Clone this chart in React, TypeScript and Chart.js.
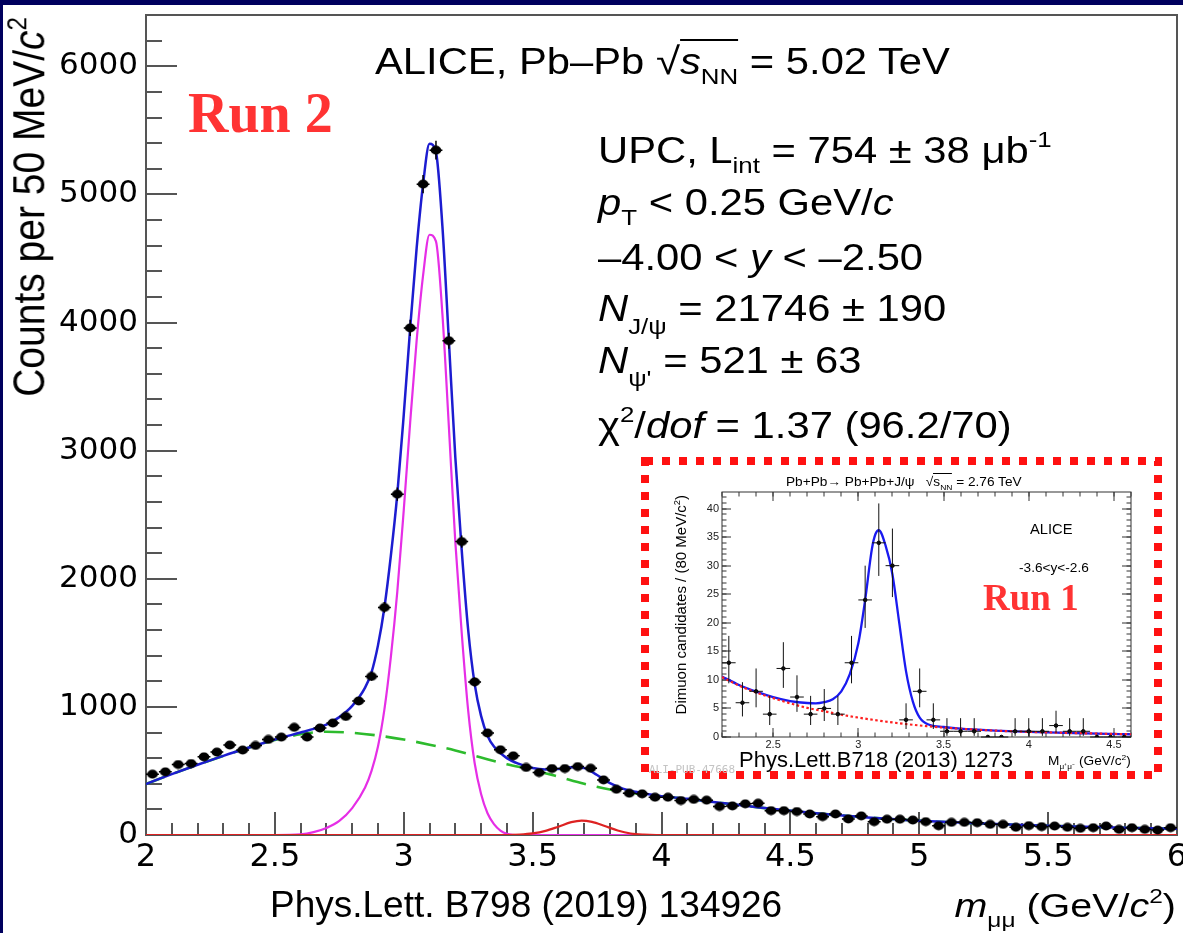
import React, { useEffect, useRef } from 'react';
import { Chart, registerables } from 'chart.js';

Chart.register(...registerables);

const SANS = '"Liberation Sans", Arial, Helvetica, sans-serif';
const SERIF = '"Liberation Serif", "Times New Roman", serif';
const TICKFONT = '"DejaVu Sans", sans-serif';
const MONO = '"DejaVu Sans Mono", "Liberation Mono", monospace';

// ---------------- tick labels ----------------
const mainXTicks = [2, 2.5, 3, 3.5, 4, 4.5, 5, 5.5, 6];
const mainYTicks = [0, 1000, 2000, 3000, 4000, 5000, 6000];
const insetXTicks = [2.5, 3, 3.5, 4, 4.5];
const insetYTicks = [0, 5, 10, 15, 20, 25, 30, 35, 40];

// ---------------- Run 2 (main) data ----------------
const binCenters = [
  2.025, 2.075, 2.125, 2.175, 2.225, 2.275, 2.325, 2.375, 2.425, 2.475,
  2.525, 2.575, 2.625, 2.675, 2.725, 2.775, 2.825, 2.875, 2.925, 2.975,
  3.025, 3.075, 3.125, 3.175, 3.225, 3.275, 3.325, 3.375, 3.425, 3.475,
  3.525, 3.575, 3.625, 3.675, 3.725, 3.775, 3.825, 3.875, 3.925, 3.975,
  4.025, 4.075, 4.125, 4.175, 4.225, 4.275, 4.325, 4.375, 4.425, 4.475,
  4.525, 4.575, 4.625, 4.675, 4.725, 4.775, 4.825, 4.875, 4.925, 4.975,
  5.025, 5.075, 5.125, 5.175, 5.225, 5.275, 5.325, 5.375, 5.425, 5.475,
  5.525, 5.575, 5.625, 5.675, 5.725, 5.775, 5.825, 5.875, 5.925, 5.975,
];
const counts = [
  475, 493, 550, 558, 610, 647, 702, 663, 699, 746,
  764, 840, 764, 835, 874, 925, 1046, 1238, 1776, 2660,
  3958, 5080, 5345, 3858, 2290, 1195, 796, 665, 618, 527,
  487, 519, 519, 534, 521, 430, 357, 326, 321, 295,
  295, 269, 278, 272, 222, 227, 243, 248, 190, 190,
  183, 164, 143, 164, 125, 149, 104, 123, 123, 117,
  104, 72, 99, 99, 96, 83, 83, 60, 73, 65,
  70, 60, 52, 57, 70, 44, 57, 44, 39, 57,
];
const countErrors = [
  22, 22, 23, 24, 25, 25, 26, 26, 26, 27,
  28, 29, 28, 29, 30, 30, 32, 35, 42, 52,
  63, 71, 73, 62, 48, 35, 28, 26, 25, 23,
  22, 23, 23, 23, 23, 21, 19, 18, 18, 17,
  17, 16, 17, 16, 15, 15, 16, 16, 14, 14,
  14, 13, 12, 13, 11, 12, 10, 11, 11, 11,
  10, 8, 10, 10, 10, 9, 9, 8, 9, 8,
  8, 8, 7, 8, 8, 7, 8, 7, 6, 8,
];

const totalFitX = [
  2.0, 2.1, 2.2, 2.3, 2.4, 2.5, 2.6, 2.65, 2.7, 2.75, 2.8, 2.85, 2.875, 2.9, 2.925,
  2.95, 2.975, 3.0, 3.025, 3.05, 3.075, 3.1, 3.125, 3.15, 3.175, 3.2, 3.225, 3.25,
  3.275, 3.3, 3.325, 3.35, 3.4, 3.45, 3.5, 3.55, 3.6, 3.65, 3.7, 3.75, 3.8, 3.85,
  3.9, 3.95, 4.0, 4.1, 4.2, 4.4, 4.6, 4.8, 5.0, 5.2, 5.4, 5.6, 5.8, 6.0,
];
const totalFitY = [
  398, 475, 548, 618, 683, 745, 800, 828, 862, 920, 1008, 1150, 1270, 1480, 1776,
  2180, 2660, 3280, 3958, 4580, 5080, 5395, 5330, 4750, 3860, 2950, 2220, 1600,
  1180, 930, 775, 690, 600, 553, 523, 512, 515, 528, 522, 468, 405, 362,
  337, 318, 303, 283, 258, 210, 170, 137, 112, 93, 78, 66, 56, 48,
];

const jpsiX = [
  2.0, 2.5, 2.6, 2.65, 2.7, 2.75, 2.8, 2.85, 2.875, 2.9, 2.925, 2.95, 2.975, 3.0,
  3.025, 3.05, 3.075, 3.1, 3.125, 3.15, 3.175, 3.2, 3.225, 3.25, 3.275, 3.3, 3.325,
  3.35, 3.375, 3.4, 3.45, 6.0,
];
const jpsiY = [
  0, 0, 5, 22, 55, 110, 210, 370, 500, 690, 980, 1390, 1900, 2535,
  3223, 3858, 4368, 4685, 4633, 4065, 3188, 2290, 1575, 970, 562, 320, 170,
  85, 35, 10, 0, 0,
];

const psi2sX = [2.0, 3.4, 3.45, 3.5, 3.55, 3.6, 3.65, 3.69, 3.73, 3.78, 3.83, 3.88, 3.93, 3.98, 6.0];
const psi2sY = [0, 0, 3, 12, 32, 65, 100, 112, 102, 70, 35, 12, 3, 0, 0];

const bkgX = [
  2.0, 2.1, 2.2, 2.3, 2.4, 2.5, 2.6, 2.7, 2.8, 2.9, 3.0, 3.1, 3.2, 3.3, 3.4, 3.5,
  3.6, 3.7, 3.8, 3.9, 4.0, 4.1, 4.2, 4.4, 4.6, 4.8, 5.0, 5.2, 5.4, 5.6, 5.8, 6.0,
];
const bkgY = [
  398, 475, 548, 618, 683, 742, 786, 806, 798, 776, 745, 705, 660, 605, 552, 508,
  455, 400, 355, 325, 302, 283, 258, 210, 170, 137, 112, 93, 78, 66, 56, 48,
];

// ---------------- Run 1 (inset) data ----------------
const run1Centers = [
  2.24, 2.32, 2.40, 2.48, 2.56, 2.64, 2.72, 2.80, 2.88, 2.96,
  3.04, 3.12, 3.20, 3.28, 3.36, 3.44, 3.52, 3.60, 3.68, 3.76,
  3.84, 3.92, 4.00, 4.08, 4.16, 4.24, 4.32, 4.40, 4.48, 4.56,
];
const run1Counts = [
  13, 6, 8, 4, 12, 7, 4, 5, 4, 13,
  24, 34, 30, 3, 8, 3, 1, 1, 1, 0,
  0, 1, 1, 1, 2, 1, 1, 0, 0, 0,
];
const run1ErrLow = [
  3.6, 2.4, 2.8, 1.9, 3.4, 2.6, 1.9, 2.2, 1.9, 3.6,
  4.9, 5.8, 5.5, 1.6, 2.8, 1.6, 0.8, 0.8, 0.8, 0,
  0, 0.8, 0.8, 0.8, 1.3, 0.8, 0.8, 0, 0, 0,
];
const run1ErrHigh = [
  4.7, 3.6, 4.0, 3.2, 4.6, 3.8, 3.2, 3.4, 3.2, 4.7,
  6.0, 6.9, 6.5, 2.9, 4.0, 2.9, 2.3, 2.3, 2.3, 0,
  0, 2.3, 2.3, 2.3, 2.6, 2.3, 2.3, 0, 0, 0,
];
const run1FitX = [
  2.2, 2.3, 2.4, 2.5, 2.6, 2.7, 2.75, 2.8, 2.85, 2.9, 2.95, 3.0, 3.04, 3.08, 3.1,
  3.12, 3.16, 3.2, 3.24, 3.28, 3.32, 3.36, 3.42, 3.5, 3.6, 3.8, 4.0, 4.2, 4.4, 4.6,
];
const run1FitY = [
  10.6, 9.1, 7.95, 7.0, 6.3, 5.95, 5.9, 6.1, 6.6, 8.0, 11.0, 16.4, 24.0, 33.0, 35.5,
  36.2, 33.5, 28.5, 20.0, 11.5, 6.2, 3.4, 2.1, 1.75, 1.45, 1.12, 0.9, 0.74, 0.6, 0.48,
];
const run1BkgX = [2.2, 2.3, 2.4, 2.5, 2.6, 2.7, 2.8, 2.9, 3.0, 3.1, 3.2, 3.3, 3.4, 3.5, 3.6, 3.8, 4.0, 4.2, 4.4, 4.6];
const run1BkgY = [10.5, 9.0, 7.8, 6.8, 5.9, 5.1, 4.5, 3.9, 3.4, 2.95, 2.55, 2.2, 1.9, 1.65, 1.45, 1.12, 0.9, 0.74, 0.6, 0.48];

const BLUE = '#1c1cd0';
const MAGENTA = '#e62ee6';
const RED = '#dd2222';
const GREEN = '#2dbb2d';

const pts = (xs: number[], ys: number[]) => xs.map((x, i) => ({ x, y: ys[i] }));

// ---------------- plugins ----------------
const frameTicksPlugin = {
  id: 'frameTicks',
  beforeDatasetsDraw(chart: any, _args: any, o: any) {
    const { ctx, chartArea: a } = chart;
    const xs = chart.scales.x;
    const ys = chart.scales.y;
    ctx.save();
    ctx.strokeStyle = o.color;
    ctx.lineWidth = o.width;
    ctx.beginPath();
    const xTicks = (step: number, len: number) => {
      const k0 = Math.ceil(xs.min / step - 1e-6);
      const k1 = Math.floor(xs.max / step + 1e-6);
      for (let k = k0; k <= k1; k++) {
        const px = Math.round(xs.getPixelForValue(k * step));
        ctx.moveTo(px, a.bottom);
        ctx.lineTo(px, a.bottom - len);
        if (o.mirror) {
          ctx.moveTo(px, a.top);
          ctx.lineTo(px, a.top + len);
        }
      }
    };
    const yTicks = (step: number, len: number) => {
      const k0 = Math.ceil(ys.min / step - 1e-6);
      const k1 = Math.floor(ys.max / step + 1e-6);
      for (let k = k0; k <= k1; k++) {
        const py = Math.round(ys.getPixelForValue(k * step));
        ctx.moveTo(a.left, py);
        ctx.lineTo(a.left + len, py);
        if (o.mirror) {
          ctx.moveTo(a.right, py);
          ctx.lineTo(a.right - len, py);
        }
      }
    };
    xTicks(o.xMajor, o.xMajorLen);
    xTicks(o.xMinor, o.xMinorLen);
    yTicks(o.yMajor, o.yMajorLen);
    yTicks(o.yMinor, o.yMinorLen);
    ctx.stroke();
    ctx.strokeRect(a.left, a.top, a.right - a.left, a.bottom - a.top);
    ctx.restore();
  },
};

const errorBarsPlugin = {
  id: 'errorBars',
  afterDatasetsDraw(chart: any) {
    const { ctx } = chart;
    const xs = chart.scales.x;
    const ys = chart.scales.y;
    chart.data.datasets.forEach((ds: any) => {
      if (!ds.errLow) return;
      ctx.save();
      ctx.strokeStyle = ds.errColor;
      ctx.lineWidth = ds.errWidth;
      ctx.beginPath();
      ds.data.forEach((p: any, j: number) => {
        const px = xs.getPixelForValue(p.x);
        const py = ys.getPixelForValue(p.y);
        ctx.moveTo(xs.getPixelForValue(p.x - ds.xHalf), py);
        ctx.lineTo(xs.getPixelForValue(p.x + ds.xHalf), py);
        if (ds.errLow[j] > 0 || ds.errHigh[j] > 0) {
          ctx.moveTo(px, ys.getPixelForValue(p.y - ds.errLow[j]));
          ctx.lineTo(px, ys.getPixelForValue(p.y + ds.errHigh[j]));
        }
      });
      ctx.stroke();
      ctx.restore();
    });
  },
};

const insetBoxPlugin = {
  id: 'insetBox',
  beforeDraw(chart: any) {
    const { ctx, width, height } = chart;
    ctx.save();
    ctx.fillStyle = '#ffffff';
    ctx.fillRect(0, 0, width, height);
    ctx.restore();
  },
  afterDraw(chart: any) {
    const { ctx, width, height } = chart;
    ctx.save();
    ctx.strokeStyle = '#ff1111';
    ctx.lineWidth = 8;
    ctx.setLineDash([8, 9]);
    ctx.strokeRect(4, 4, width - 8, height - 8);
    ctx.restore();
  },
};

// ---------------- text helpers ----------------
function Txt({ x, y, size, children, color = '#000', family = SANS, weight = 400, sx = 1.16, align = 'left', style = {} }: any) {
  const st: any = {
    position: 'absolute',
    top: y - 0.845 * size,
    fontSize: size,
    lineHeight: `${size}px`,
    fontFamily: family,
    fontWeight: weight,
    color,
    whiteSpace: 'nowrap',
    transform: `scaleX(${sx})`,
    transformOrigin: align === 'left' ? 'left top' : 'right top',
    ...style,
  };
  if (align === 'left') st.left = x;
  else st.right = 1183 - x;
  return <div style={st}>{children}</div>;
}
const Sub = ({ children, s = 0.62, d = 0.28 }: any) => (
  <span style={{ fontSize: `${s}em`, position: 'relative', top: `${d / s}em` }}>{children}</span>
);
const Sup = ({ children, s = 0.62, d = 0.42 }: any) => (
  <span style={{ fontSize: `${s}em`, position: 'relative', top: `${-d / s}em` }}>{children}</span>
);

const fixedTicks = (values: number[]) => (s: any) => {
  s.ticks = values.map((value) => ({ value }));
};

export default function App() {
  const mainRef = useRef<HTMLCanvasElement>(null);
  const insetRef = useRef<HTMLCanvasElement>(null);

  useEffect(() => {
    document.body.style.margin = '0';
    const marker = document.createElement('canvas');
    marker.width = 12;
    marker.height = 10;
    const mctx = marker.getContext('2d')!;
    mctx.fillStyle = '#000';
    mctx.beginPath();
    mctx.ellipse(6, 5, 5.4, 4.4, 0, 0, Math.PI * 2);
    mctx.fill();

    const tickCb = (v: any) => String(Math.round(Number(v) * 100) / 100);

    const main = new Chart(mainRef.current!, {
      type: 'scatter',
      plugins: [frameTicksPlugin, errorBarsPlugin],
      data: {
        datasets: [
          {
            label: 'data',
            data: pts(binCenters, counts),
            pointStyle: marker,
            pointRadius: 5,
            backgroundColor: '#000',
            borderColor: '#000',
            order: 0,
            errLow: countErrors,
            errHigh: countErrors,
            xHalf: 0.025,
            errColor: '#000',
            errWidth: 1.5,
          } as any,
          {
            label: 'total fit',
            data: pts(totalFitX, totalFitY),
            showLine: true,
            borderColor: BLUE,
            borderWidth: 2.5,
            pointRadius: 0,
            cubicInterpolationMode: 'monotone',
            order: 1,
          } as any,
          {
            label: 'J/psi',
            data: pts(jpsiX, jpsiY),
            showLine: true,
            borderColor: MAGENTA,
            borderWidth: 2.2,
            pointRadius: 0,
            cubicInterpolationMode: 'monotone',
            order: 3,
          } as any,
          {
            label: 'psi(2S)',
            data: pts(psi2sX, psi2sY),
            showLine: true,
            borderColor: RED,
            borderWidth: 2.2,
            pointRadius: 0,
            cubicInterpolationMode: 'monotone',
            order: 2,
          } as any,
          {
            label: 'background',
            data: pts(bkgX, bkgY),
            showLine: true,
            borderColor: GREEN,
            borderWidth: 2.6,
            borderDash: [20, 11],
            pointRadius: 0,
            cubicInterpolationMode: 'monotone',
            order: 4,
          } as any,
        ],
      },
      options: {
        responsive: false,
        animation: false,
        devicePixelRatio: 1,
        events: [],
        layout: { padding: { left: 0, right: 5, top: 15, bottom: 0 } },
        plugins: {
          legend: { display: false },
          tooltip: { enabled: false },
          frameTicks: {
            color: '#555555', width: 2, mirror: false,
            xMajor: 0.5, xMajorLen: 23, xMinor: 0.1, xMinorLen: 12,
            yMajor: 1000, yMajorLen: 31, yMinor: 200, yMinorLen: 16,
          },
        } as any,
        scales: {
          x: {
            type: 'linear', min: 2, max: 6,
            grid: { display: false, drawTicks: false }, border: { display: false },
            ticks: { font: { family: TICKFONT, size: 32 }, color: '#000', padding: 3, maxRotation: 0, minRotation: 0, autoSkip: false, callback: tickCb },
            afterBuildTicks: fixedTicks(mainXTicks),
            afterFit(s: any) { s.height = 98; s.paddingLeft = 0; s.paddingRight = 0; },
          },
          y: {
            type: 'linear', min: 0, max: 6400,
            grid: { display: false, drawTicks: false }, border: { display: false },
            ticks: { font: { family: TICKFONT, size: 31 }, color: '#000', padding: 8, autoSkip: false, callback: tickCb },
            afterBuildTicks: fixedTicks(mainYTicks),
            afterFit(s: any) { s.width = 146; s.paddingTop = 0; s.paddingBottom = 0; },
          },
        } as any,
      },
    });

    const inset = new Chart(insetRef.current!, {
      type: 'scatter',
      plugins: [insetBoxPlugin, frameTicksPlugin, errorBarsPlugin],
      data: {
        datasets: [
          {
            label: 'run1 data',
            data: pts(run1Centers, run1Counts),
            pointRadius: 1.8,
            backgroundColor: '#000',
            borderColor: '#000',
            order: 0,
            errLow: run1ErrLow,
            errHigh: run1ErrHigh,
            xHalf: 0.04,
            errColor: '#111',
            errWidth: 1,
          } as any,
          {
            label: 'run1 bkg',
            data: pts(run1BkgX, run1BkgY),
            showLine: true,
            borderColor: '#ff2020',
            borderWidth: 2.2,
            borderDash: [2.5, 2.5],
            pointRadius: 0,
            cubicInterpolationMode: 'monotone',
            order: 1,
          } as any,
          {
            label: 'run1 fit',
            data: pts(run1FitX, run1FitY),
            showLine: true,
            borderColor: '#1a1af0',
            borderWidth: 2.3,
            pointRadius: 0,
            cubicInterpolationMode: 'monotone',
            order: 2,
          } as any,
        ],
      },
      options: {
        responsive: false,
        animation: false,
        devicePixelRatio: 1,
        events: [],
        layout: { padding: { left: 0, right: 31, top: 35, bottom: 0 } },
        plugins: {
          legend: { display: false },
          tooltip: { enabled: false },
          frameTicks: {
            color: '#333333', width: 1, mirror: true,
            xMajor: 0.5, xMajorLen: 9, xMinor: 0.1, xMinorLen: 4.5,
            yMajor: 5, yMajorLen: 9, yMinor: 1, yMinorLen: 4.5,
          },
        } as any,
        scales: {
          x: {
            type: 'linear', min: 2.2, max: 4.6,
            grid: { display: false, drawTicks: false }, border: { display: false },
            ticks: { font: { family: SANS, size: 11 }, color: '#222', padding: 1.5, maxRotation: 0, minRotation: 0, autoSkip: false, callback: tickCb },
            afterBuildTicks: fixedTicks(insetXTicks),
            afterFit(s: any) { s.height = 42; s.paddingLeft = 0; s.paddingRight = 0; },
          },
          y: {
            type: 'linear', min: 0, max: 42.9,
            grid: { display: false, drawTicks: false }, border: { display: false },
            ticks: { font: { family: SANS, size: 11 }, color: '#222', padding: 3, autoSkip: false, callback: tickCb },
            afterBuildTicks: fixedTicks(insetYTicks),
            afterFit(s: any) { s.width = 81; s.paddingTop = 0; s.paddingBottom = 0; },
          },
        } as any,
      },
    });

    return () => {
      main.destroy();
      inset.destroy();
    };
  }, []);

  return (
    <div style={{ position: 'fixed', left: 0, top: 0, width: 1183, height: 933, background: '#fff', overflow: 'hidden', fontFamily: SANS }}>
      <canvas ref={mainRef} width={1183} height={933} style={{ position: 'absolute', left: 0, top: 0, width: 1183, height: 933 }} />

      {/* y axis title */}
      <div style={{ position: 'absolute', left: 7, top: 417, width: 400, textAlign: 'right', fontSize: 39, lineHeight: '39px', fontFamily: SANS, whiteSpace: 'nowrap', transformOrigin: '0 0', transform: 'scaleX(1.14) rotate(-90deg)' }}>
        Counts per 50 MeV/<i>c</i><Sup>2</Sup>
      </div>

      <Txt x={188} y={132} size={56} family={SERIF} weight={700} color="#ff3333" sx={1}>Run 2</Txt>

      <Txt x={375} y={73} size={36}>
        ALICE, Pb–Pb <span style={{ fontSize: '1.05em' }}>√</span>
        <span style={{ borderTop: '2px solid #000' }}><i>s</i><Sub>NN</Sub></span> = 5.02 TeV
      </Txt>
      <Txt x={598} y={163} size={36}>UPC, L<Sub>int</Sub> = 754 ± 38 μb<Sup>-1</Sup></Txt>
      <Txt x={598} y={215} size={36}><i>p</i><Sub>T</Sub> &lt; 0.25 GeV/<i>c</i></Txt>
      <Txt x={598} y={270} size={36}>–4.00 &lt; <i>y</i> &lt; –2.50</Txt>
      <Txt x={598} y={321} size={36}><i>N</i><Sub d={0.36}>J/ψ</Sub> = 21746 ± 190</Txt>
      <Txt x={598} y={373} size={36}><i>N</i><Sub d={0.36}>ψ'</Sub> = 521 ± 63</Txt>
      <Txt x={598} y={438} size={36}>χ<Sup>2</Sup>/<i>dof</i> = 1.37 (96.2/70)</Txt>

      <Txt x={270} y={917} size={37} sx={1}>Phys.Lett. B798 (2019) 134926</Txt>
      <Txt x={1176} y={917} size={34} align="right"><i>m</i><Sub>μμ</Sub> (GeV/<i>c</i><Sup>2</Sup>)</Txt>

      {/* inset */}
      <canvas ref={insetRef} width={521} height={322} style={{ position: 'absolute', left: 641, top: 457, width: 521, height: 322 }} />
      <Txt x={786} y={486} size={13} sx={1.05}>
        Pb+Pb→ Pb+Pb+J/ψ&nbsp;&nbsp; √<span style={{ borderTop: '1px solid #000' }}>s<Sub>NN</Sub></span> = 2.76 TeV
      </Txt>
      <div style={{ position: 'absolute', left: 673, top: 495 + 260, width: 260, textAlign: 'right', fontSize: 15, lineHeight: '15px', fontFamily: SANS, whiteSpace: 'nowrap', transformOrigin: '0 0', transform: 'rotate(-90deg)' }}>
        Dimuon candidates / (80 MeV/c<Sup>2</Sup>)
      </div>
      <Txt x={1030} y={534} size={14} sx={1.05}>ALICE</Txt>
      <Txt x={1019} y={572} size={13} sx={1.05}>-3.6&lt;y&lt;-2.6</Txt>
      <Txt x={983} y={610} size={37} family={SERIF} weight={700} color="#ff3333" sx={1}>Run 1</Txt>
      <Txt x={739} y={768} size={22} sx={1}>Phys.Lett.B718 (2013) 1273</Txt>
      <Txt x={1131} y={765} size={13} sx={1.05} align="right">M<Sub s={0.6}>μ⁺μ⁻</Sub> (GeV/c<Sup>2</Sup>)</Txt>
      <Txt x={649} y={773} size={11} family={MONO} color="#c4c4c4" sx={1}>ALI-PUB-47668</Txt>

      <div style={{ position: 'absolute', left: 0, top: 0, width: 1183, height: 5, background: '#00005e' }} />
      <div style={{ position: 'absolute', left: 0, top: 0, width: 3, height: 933, background: '#00005e' }} />
    </div>
  );
}
